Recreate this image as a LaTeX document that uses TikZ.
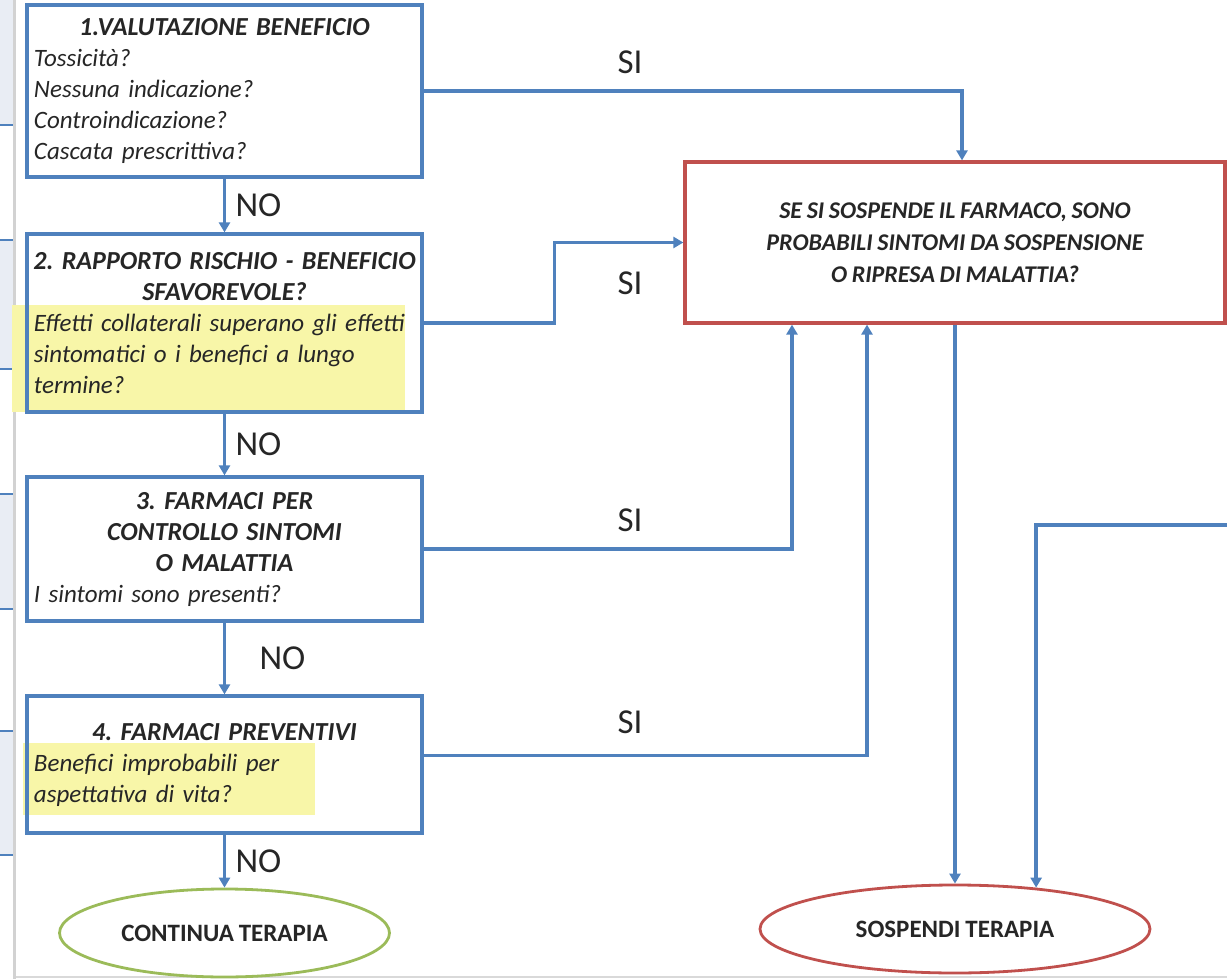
\documentclass[tikz,border=0pt]{standalone}
\usepackage{fontspec}
\setmainfont[WordSpace=0.85]{Carlito}
\usepackage{tikz}
\usetikzlibrary{arrows.meta,positioning,shapes.geometric}
\usepackage{xcolor}
\definecolor{flowblue}{RGB}{79,129,189}
\definecolor{stopred}{RGB}{192,80,77}
\definecolor{goongreen}{RGB}{155,187,89}
\definecolor{hilite}{RGB}{248,246,168}
\definecolor{inkgray}{RGB}{38,38,38}
\definecolor{stripshade}{RGB}{233,237,244}
\newcommand{\ttl}[1]{\makebox[\linewidth][c]{\fontsize{26}{31}\selectfont\bfseries\itshape #1}}
\newcommand{\lft}[1]{\makebox[\linewidth][l]{\itshape #1}}
\frenchspacing

\begin{document}
\begin{tikzpicture}[
  x=1pt,y=-1pt,
  every node/.style={font=\fontsize{25}{31}\selectfont,text=inkgray},
  qbox/.style={draw=flowblue,line width=3.2pt,minimum width=395pt,text width=381pt,inner xsep=7pt,align=center},
  susp/.style={draw=stopred,line width=3.2pt,minimum width=540pt,minimum height=161pt,align=center,font=\fontsize{24}{32}\selectfont\bfseries\itshape},
  endgo/.style={draw=goongreen,ellipse,line width=2.8pt,minimum width=330pt,minimum height=88pt,font=\fontsize{25}{25}\selectfont\bfseries},
  endstop/.style={draw=stopred,ellipse,line width=2.8pt,minimum width=390pt,minimum height=88pt,font=\fontsize{25}{25}\selectfont\bfseries},
  lbl/.style={font=\fontsize{35}{35}\selectfont},
  arr/.style={-{Triangle[length=10pt,width=11pt]},flowblue,line width=3.4pt}
]
\useasboundingbox (0,0) rectangle (1227,979);
% slide strip on the left
\foreach \ya/\yb in {0/125,240/369,494/609,731/855}
  \fill[stripshade] (0,\ya) rectangle (13,\yb);
\foreach \yy in {125,240,369,494,609,731,855}
  \draw[flowblue,line width=1.2pt] (0,\yy) -- (13,\yy);
\fill[gray!35] (13,0) rectangle (16,979);
\draw[gray!30,line width=2pt] (16,977) -- (1227,977);
% highlighted text
\fill[hilite] (12,305) rectangle (405,412);
\fill[hilite] (23,743) rectangle (315,815);

\node[qbox,minimum height=172pt] (b1) at (224.5,91)
  {\ttl{1.VALUTAZIONE BENEFICIO}\\\lft{Tossicità?}\\\lft{Nessuna indicazione?}\\\lft{Controindicazione?}\\\lft{Cascata prescrittiva?}};
\node[qbox,minimum height=178pt] (b2) at (224.5,323)
  {\ttl{2. RAPPORTO RISCHIO - BENEFICIO}\\\ttl{SFAVOREVOLE?}\\\lft{Effetti collaterali superano gli effetti}\\\lft{sintomatici o i benefici a lungo}\\\lft{termine?}};
\node[qbox,minimum height=144pt] (b3) at (224.5,549)
  {\ttl{3. FARMACI PER}\\\ttl{CONTROLLO SINTOMI}\\\ttl{O MALATTIA}\\\lft{I sintomi sono presenti?}};
\node[qbox,minimum height=137pt] (b4) at (224.5,764.5)
  {\ttl{4. FARMACI PREVENTIVI}\\\lft{Benefici improbabili per}\\\lft{aspettativa di vita?}};
\node[susp] (red) at (955,242.5)
  {SE SI SOSPENDE IL FARMACO, SONO\\PROBABILI SINTOMI DA SOSPENSIONE\\O RIPRESA DI MALATTIA?};
\node[endgo] (cont) at (224.5,933) {CONTINUA TERAPIA};
\node[endstop] (sosp) at (955,929) {SOSPENDI TERAPIA};
\coordinate (feed) at (1227,525);

\node[lbl] (si1) at (630,62) {SI};
\node[lbl] (si2) at (630,283) {SI};
\node[lbl] (si3) at (630,520) {SI};
\node[lbl] (si4) at (630,722) {SI};

\draw[arr] (b1) -- node[lbl,right,xshift=6pt]{NO} (b2);
\draw[arr] (b2) -- node[lbl,right,xshift=6pt]{NO} (b3);
\draw[arr] (b3) -- node[lbl,right,xshift=30pt]{NO} (b4);
\draw[arr] (b4) -- node[lbl,right,xshift=6pt]{NO} (cont);
\draw[arr] (b1.east) -| ([xshift=7pt]red.north);
\draw[arr] (b2.east) -- ++(131,0) |- (red.west);
\draw[arr] (b3.east) -| ([xshift=-163pt]red.south);
\draw[arr] ([yshift=9pt]b4.east) -| ([xshift=-88pt]red.south);
\draw[arr] (red) -- (sosp);
\draw[arr] (feed) -| (sosp.27);
\end{tikzpicture}
\end{document}
